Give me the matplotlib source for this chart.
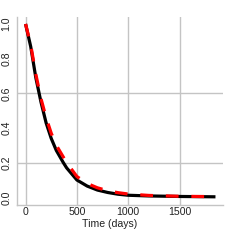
import numpy as np
import matplotlib
matplotlib.use("Agg")
import matplotlib.pyplot as plt

plt.rcParams['font.family'] = ['Liberation Sans', 'DejaVu Sans']

# survival curves
t_obs = [0, 50, 100, 150, 200, 250, 300, 368, 400, 450, 500, 600, 700, 800, 900, 1000, 1200, 1500, 1850]
s_obs = [1.0, 0.87, 0.69, 0.55, 0.43, 0.34, 0.27, 0.20, 0.17, 0.135, 0.10, 0.065, 0.042, 0.028, 0.018, 0.012, 0.008, 0.005, 0.003]

t_fit = [0, 50, 100, 150, 200, 250, 300, 400, 500, 600, 700, 800, 900, 1000, 1200, 1500, 1850]
s_fit = [1.0, 0.88, 0.71, 0.57, 0.46, 0.37, 0.30, 0.20, 0.12, 0.08, 0.055, 0.038, 0.027, 0.019, 0.011, 0.006, 0.004]

xticks = [0, 500, 1000, 1500]
yticks = [0.0, 0.2, 0.4, 0.6, 0.8, 1.0]
ygrid = [0.2, 0.6]

fig = plt.figure(figsize=(2.4, 2.4), dpi=100)
ax = fig.add_axes([0.071, 0.146, 0.858, 0.783])

for x in xticks:
    ax.axvline(x, color='#c4c4c4', lw=1, zorder=0)
for y in ygrid:
    ax.axhline(y, color='#c4c4c4', lw=1, zorder=0)

ax.plot(t_obs, s_obs, color='black', lw=2.3, solid_capstyle='butt', zorder=2)
ax.plot(t_fit, s_fit, color='#ff0000', lw=2.3, dashes=(4, 4), zorder=3)

ax.set_xlim(-83, 1923)
ax.set_ylim(-0.044, 1.04)
ax.set_xticks(xticks)
ax.set_yticks(yticks)
ax.set_yticklabels(['0.0', '0.2', '0.4', '0.6', '0.8', '1.0'], rotation=90, va='center')
ax.tick_params(length=0, labelsize=7.6, colors='#222222')
ax.tick_params(axis='x', pad=1.5)
ax.tick_params(axis='y', pad=4)

for s in ['top', 'right']:
    ax.spines[s].set_visible(False)
for s in ['left', 'bottom']:
    ax.spines[s].set_color('#c4c4c4')
    ax.spines[s].set_linewidth(1)

ax.set_xlabel('Time (days)', fontsize=7.6, color='#222222')
ax.xaxis.set_label_coords(0.45, -0.075)

fig.savefig('out.png', dpi=100)
